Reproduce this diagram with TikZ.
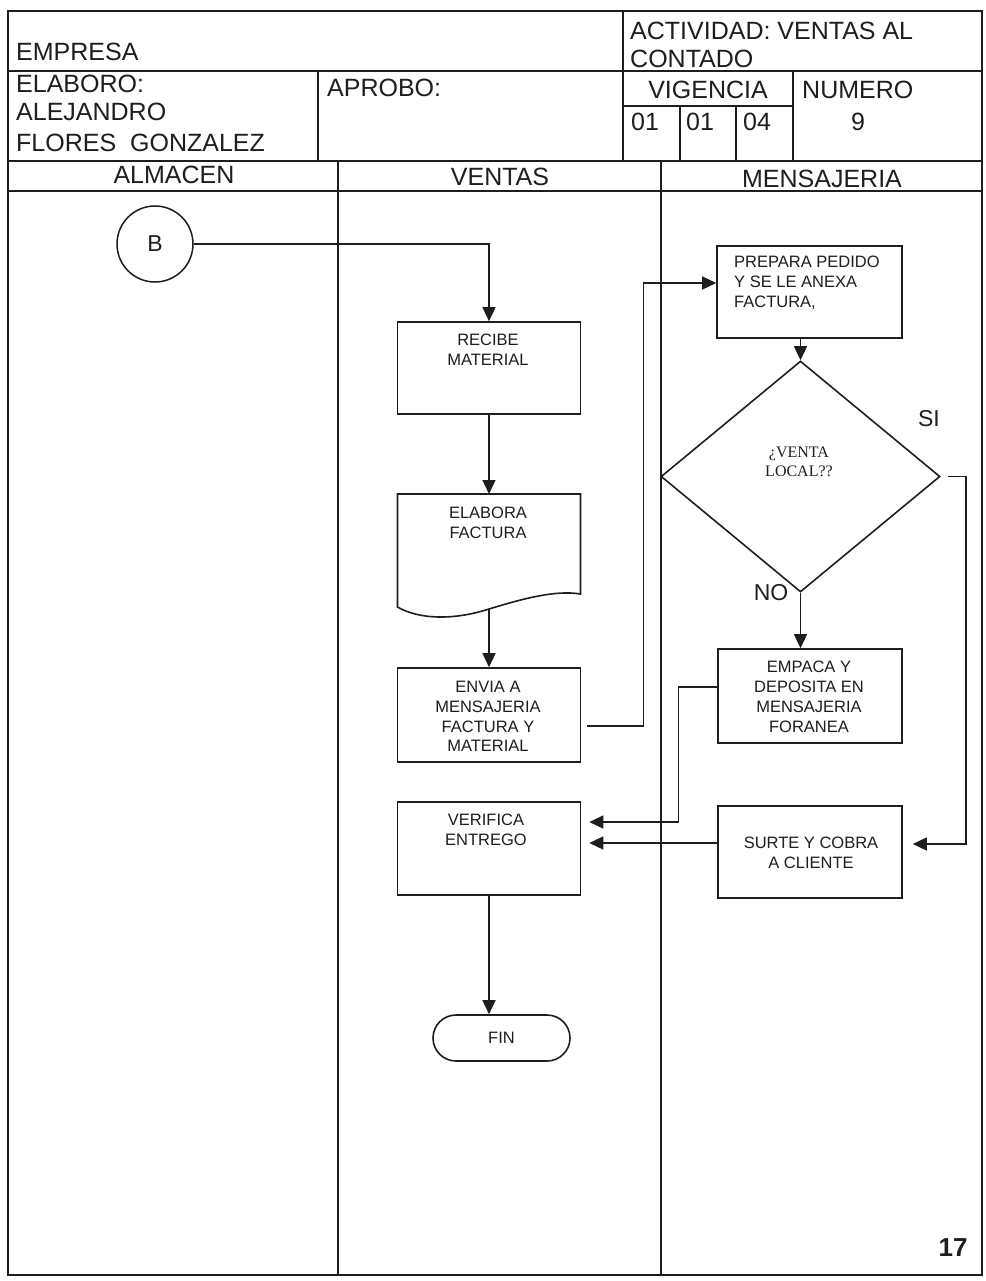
\documentclass[tikz,border=0pt]{standalone}
\usepackage{fontspec}
\setmainfont{Liberation Sans}
\newfontfamily\decfont{Liberation Serif}
\usetikzlibrary{arrows.meta,shapes.geometric,calc}
\definecolor{ink}{RGB}{30,30,30}
\begin{document}
\begin{tikzpicture}[x=1pt,y=-1pt,
  frame/.style={draw=ink,line width=1.8pt},
  lane/.style={draw=ink,line width=1.2pt},
  hdr/.style={font=\fontsize{25}{29.5}\selectfont,text=ink,inner sep=0pt},
  boxline/.style={draw=ink,line width=1.6pt},
  procbox/.style={boxline,minimum width=183pt,minimum height=92pt,inner sep=0pt},
  boxtext/.style={font=\fontsize{16.5}{19.8}\selectfont,text=ink,align=center,inner sep=0pt},
  lbl/.style={font=\fontsize{23}{27}\selectfont,text=ink,inner sep=0pt},
  flow/.style={draw=ink,line width=1.4pt,-{Triangle[length=14pt,width=13pt]}},
]
\fill[white] (0,0) rectangle (985,1281);
\useasboundingbox (0,0) rectangle (985,1281);

% form header grid
\draw[frame] (8,11) rectangle (982,1275);
\draw[frame] (8,71) -- (982,71);
\draw[frame] (623,11) -- (623,161);
\draw[frame] (318,71) -- (318,161);
\draw[frame] (793,71) -- (793,161);
\draw[frame] (623,106) -- (793,106);
\draw[frame] (680,106) -- (680,161);
\draw[frame] (736,106) -- (736,161);
\draw[frame] (8,161) -- (982,161);
\draw[frame] (8,191) -- (982,191);
% swimlane dividers
\draw[lane] (338,161) -- (338,1275);
\draw[lane] (661,161) -- (661,1275);

% header texts
\node[hdr,anchor=west] (empresa) at (16,52) {EMPRESA};
\node[hdr,anchor=west] (act1) at (630,31) {ACTIVIDAD: VENTAS AL};
\node[hdr,anchor=west] (act2) at (630,59) {CONTADO};
\node[hdr,anchor=west] (elab) at (16,84) {ELABORO:};
\node[hdr,anchor=west] (alej) at (16,112) {ALEJANDRO};
\node[hdr,anchor=west] (flores) at (16,143) {FLORES~~GONZALEZ};
\node[hdr,anchor=west] (aprobo) at (327,88) {APROBO:};
\node[hdr] (vig) at (708,90) {VIGENCIA};
\node[hdr,anchor=west] (num) at (802,90) {NUMERO};
\node[hdr] (d1) at (645,122) {01};
\node[hdr] (d2) at (700,122) {01};
\node[hdr] (d3) at (757,122) {04};
\node[hdr] (nueve) at (858,122) {9};
\node[hdr] (almacen) at (174,175) {ALMACEN};
\node[hdr] (ventas) at (500,177) {VENTAS};
\node[hdr] (mensajeria) at (822,179) {MENSAJERIA};

% connector B
\node[draw=ink,line width=1.5pt,circle,minimum size=76pt,inner sep=0pt,
      font=\fontsize{23}{27}\selectfont,text=ink] (B) at (155,244) {B};

% VENTAS lane
\node[procbox] (recibe) at (489,368) {};
\node[boxtext] (recibeT) at (488,349.5) {RECIBE\\MATERIAL};

\draw[boxline] (397.5,494) -- (580.5,494) -- (580.5,594)
  .. controls (556,590) and (525,598) .. (489,609)
  .. controls (455,620) and (420,620) .. (397.5,607) -- cycle;
\coordinate (elabN) at (489,494);
\coordinate (elabS) at (489,609);
\node[boxtext] (elaboraT) at (488,522.5) {ELABORA\\FACTURA};

\node[procbox,minimum height=94pt] (envia) at (489,715) {};
\node[boxtext] (enviaT) at (488,716.5) {ENVIA A\\MENSAJERIA\\FACTURA Y\\MATERIAL};

\node[procbox,minimum height=93pt] (verifica) at (489,848.5) {};
\node[boxtext] (verificaT) at (486,830) {VERIFICA\\ENTREGO};

\node[boxline,rounded corners=23pt,minimum width=137pt,minimum height=46pt,
      boxtext] (fin) at (501.5,1038) {FIN};

% MENSAJERIA lane
\node[procbox,minimum width=185pt] (prepara) at (809.5,292) {};
\node[boxtext,align=left,anchor=west] (preparaT) at (734,282.5)
  {PREPARA PEDIDO\\Y SE LE ANEXA\\FACTURA,};

\node[diamond,boxline,minimum width=279pt,minimum height=231pt,inner sep=0pt]
  (dec) at (800.5,476.5) {};
\node[font=\decfont\fontsize{16}{19}\selectfont,align=center,text=ink,inner sep=0pt]
  (decT) at (799,462) {¿VENTA\\LOCAL??};
\node[lbl] (si) at (929,419) {SI};
\node[lbl] (no) at (771,593) {NO};

\node[procbox,minimum width=184pt,minimum height=94pt] (empaca) at (810,696) {};
\node[boxtext] (empacaT) at (809,697) {EMPACA Y\\DEPOSITA EN\\MENSAJERIA\\FORANEA};

\node[procbox,minimum width=184pt] (surte) at (810,852) {};
\node[boxtext] (surteT) at (811,853) {SURTE Y COBRA\\A CLIENTE};

% page number
\node[font=\bfseries\fontsize{26}{30}\selectfont,text=ink,inner sep=0pt] (pg) at (953,1248) {17};

% connectors
\draw[flow] (B.east) -| (recibe.north);
\draw[flow] (recibe.south) -- (elabN);
\draw[flow] (elabS) -- (envia.north);
\draw[flow] ($(envia.east)+(6,11)$) -- ++(56,0) |- ($(prepara.west)+(0,-9)$);
\draw[flow] (prepara.south -| dec.north) -- (dec.north);
\draw[flow] (dec.south) -- (dec.south |- empaca.north);
\draw[flow] ($(dec.east)+(7,0)$) -- ++(18,0) |- ($(surte.east)+(10,-8)$);
\draw[flow] ($(empaca.west)+(0,-9)$) -- ++(-39,0) |- ($(verifica.east)+(8,-26.5)$);
\draw[flow] ($(surte.west)+(0,-9)$) -- ($(verifica.east)+(8,-5.5)$);
\draw[flow] (verifica.south) -- (verifica.south |- fin.north);
\end{tikzpicture}
\end{document}
